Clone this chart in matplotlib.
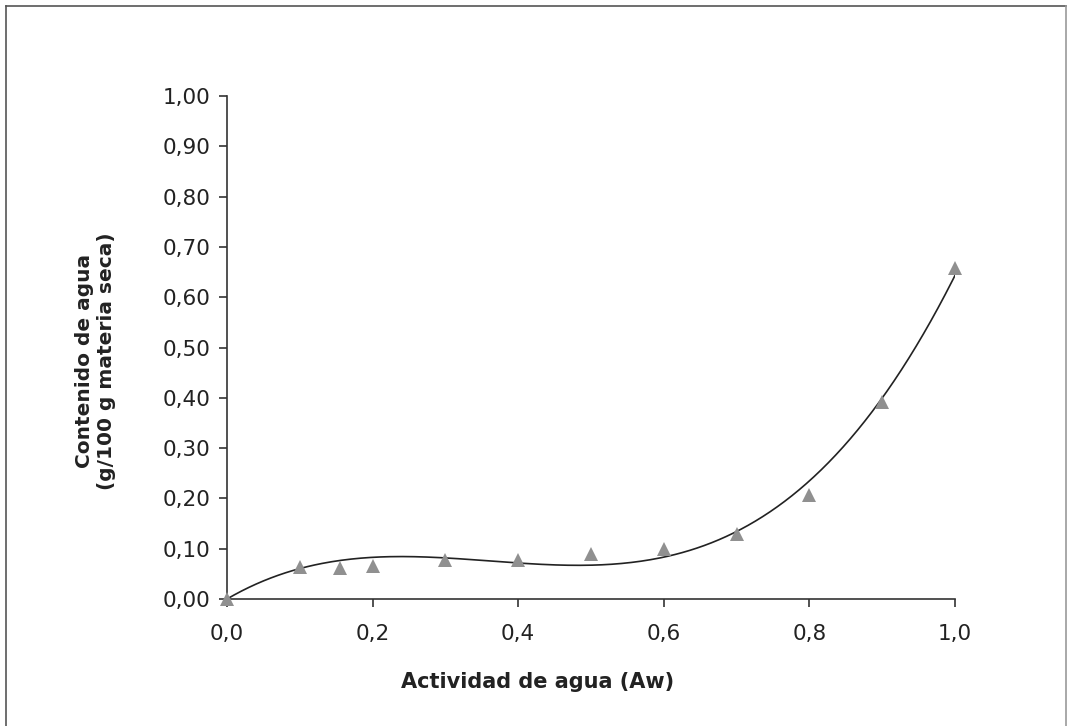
import matplotlib
matplotlib.use('Agg')
import matplotlib.pyplot as plt
import numpy as np
from matplotlib.ticker import FuncFormatter

aw = [0.0, 0.10, 0.155, 0.20, 0.30, 0.40, 0.50, 0.60, 0.70, 0.80, 0.90, 1.00]
contenido = [0.0, 0.064, 0.062, 0.065, 0.078, 0.078, 0.090, 0.100, 0.130, 0.207, 0.392, 0.658]

x_ticks = [0.0, 0.2, 0.4, 0.6, 0.8, 1.0]
y_ticks = [0.0, 0.1, 0.2, 0.3, 0.4, 0.5, 0.6, 0.7, 0.8, 0.9, 1.0]

plt.rcParams['font.family'] = ['DejaVu Sans']

W, H = 1067, 726
fig = plt.figure(figsize=(W / 100, H / 100), dpi=100)
ax = fig.add_axes([227 / W, 1 - 599 / H, (955 - 227) / W, (599 - 96) / H])

# linea de tendencia: polinomio de grado 3 con intercepto en cero
xa = np.array(aw)
A = np.column_stack([xa, xa ** 2, xa ** 3])
coef, *_ = np.linalg.lstsq(A, np.array(contenido), rcond=None)
xs = np.linspace(0, 1, 300)
ys = coef[0] * xs + coef[1] * xs ** 2 + coef[2] * xs ** 3
ax.plot(xs, ys, color='#222222', lw=1.2, zorder=2)
ax.plot(aw, contenido, linestyle='none', marker='^', markersize=10,
        color='#909090', markeredgewidth=0, zorder=3, clip_on=False)

ax.set_xlim(0, 1)
ax.set_ylim(0, 1)
ax.set_xticks(x_ticks)
ax.set_yticks(y_ticks)
ax.xaxis.set_major_formatter(FuncFormatter(lambda v, p: f'{v:.1f}'.replace('.', ',')))
ax.yaxis.set_major_formatter(FuncFormatter(lambda v, p: f'{v:.2f}'.replace('.', ',')))
ax.tick_params(direction='out', length=5.8, width=1.2, color='#333333',
               labelsize=15.5, labelcolor='#222222')
ax.tick_params(axis='y', pad=6)
ax.tick_params(axis='x', pad=12)
for s in ['top', 'right']:
    ax.spines[s].set_visible(False)
for s in ['left', 'bottom']:
    ax.spines[s].set_color('#333333')
    ax.spines[s].set_linewidth(1.2)

fig.text(538 / W, 1 - 682 / H, 'Actividad de agua (Aw)', fontsize=15,
         fontweight='bold', color='#222222', ha='center', va='center')
fig.text(95 / W, 1 - 361 / H, 'Contenido de agua\n(g/100 g materia seca)', fontsize=14.5,
         fontweight='bold', color='#222222', ha='center', va='center',
         rotation=90, multialignment='center', linespacing=1.2)

# marco de la figura
fig.add_artist(plt.Line2D([6 / W, 6 / W], [0, 1 - 6 / H], color='#555555', lw=1.2))
fig.add_artist(plt.Line2D([6 / W, 1066 / W], [1 - 6 / H, 1 - 6 / H], color='#555555', lw=1.2))
fig.add_artist(plt.Line2D([1065.5 / W, 1065.5 / W], [0, 1 - 6 / H], color='#999999', lw=1.2))

fig.savefig('out.png', dpi=100)
